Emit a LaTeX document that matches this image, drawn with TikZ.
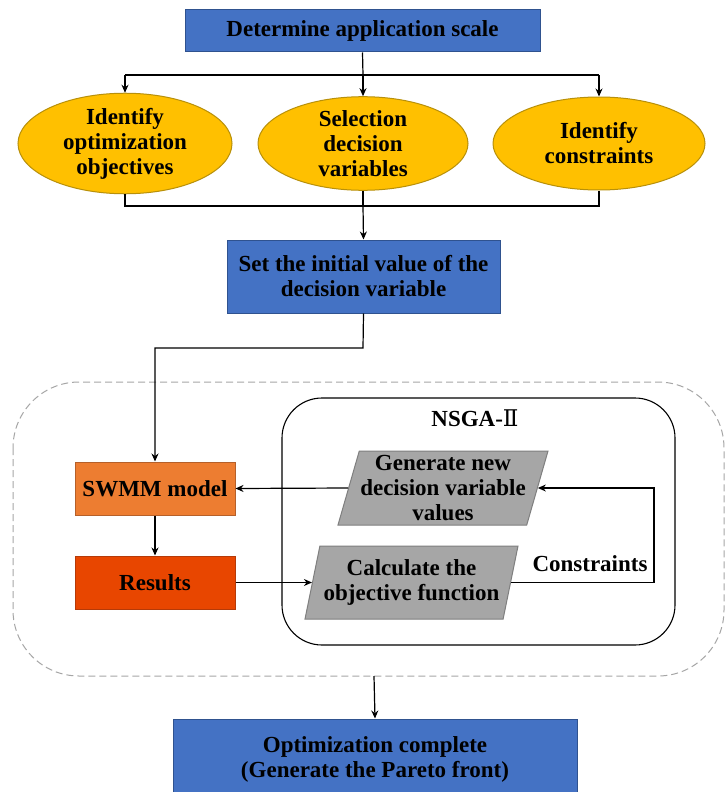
\documentclass[tikz,border=0pt]{standalone}
\usepackage{fontspec}
\setmainfont{Liberation Serif}
\newfontfamily\romanfont{DejaVu Serif}
\usetikzlibrary{shapes.geometric,arrows.meta}
\definecolor{boxblue}{HTML}{4472C4}
\definecolor{boxblueline}{HTML}{2F528F}
\definecolor{goalfill}{HTML}{FFC000}
\definecolor{goalline}{HTML}{B8900A}
\definecolor{swmmfill}{HTML}{ED7D31}
\definecolor{swmmline}{HTML}{B5602A}
\definecolor{resfill}{HTML}{E84600}
\definecolor{resline}{HTML}{B53A08}
\definecolor{parafill}{HTML}{A6A6A6}
\definecolor{paraline}{HTML}{7F7F7F}
\tikzset{
  lbl/.style={font=\bfseries\fontsize{23}{25}\selectfont, align=center, text=black},
  bluebox/.style={lbl, rectangle, draw=boxblueline, line width=1pt, fill=boxblue, inner sep=0pt},
  goal/.style={lbl, ellipse, draw=goalline, line width=1pt, fill=goalfill, inner sep=0pt},
  swmmbox/.style={lbl, rectangle, draw=swmmline, line width=1pt, fill=swmmfill, inner sep=0pt, minimum width=160, minimum height=53},
  resbox/.style={lbl, rectangle, draw=resline, line width=1pt, fill=resfill, inner sep=0pt, minimum width=160, minimum height=53},
  para/.style={lbl, trapezium, trapezium left angle=72, trapezium right angle=108, trapezium stretches body,
    draw=paraline, line width=1pt, fill=parafill, inner sep=0pt},
  link/.style={line width=1.2pt, draw=black},
  arr/.style={link, -{Stealth[length=8pt,width=7pt]}},
}
\begin{document}
\begin{tikzpicture}[x=1pt, y=-1pt]
\clip (0,0) rectangle (727,792);
\fill[white] (0,0) rectangle (727,792);

% outer dashed frame and NSGA-II frame
\draw[gray!70, line width=1pt, dash pattern=on 7pt off 4pt, rounded corners=66] (13,382) rectangle (724,676);
\draw[black, line width=1.1pt, rounded corners=40] (282,398) rectangle (675,645);
\node[lbl] (nsga) at (475,418) {NSGA-{\romanfont\mdseries Ⅱ}};

% top of the flow
\node[bluebox, minimum width=355, minimum height=42] (scale) at (362.5,31) {Determine application scale};
\node[goal, minimum width=214, minimum height=93] (obj) at (125,143.5) {Identify\\optimization\\objectives};
\node[goal, minimum width=210, minimum height=93] (var) at (363,143.5) {Selection\\decision\\variables};
\node[goal, minimum width=212, minimum height=93] (cons) at (599,143.5) {Identify\\constraints};
\node[bluebox, minimum width=273, minimum height=73] (init) at (363.5,276.5) {Set the initial value of the\\decision variable};

% simulation and optimisation loop
\node[swmmbox] (swmm) at (155,488.5) {SWMM model};
\node[resbox] (res) at (155,582.5) {Results};
\node[para, minimum width=210, minimum height=74] (gen) at (443,488) {Generate new\\decision variable\\values};
\node[para, minimum width=213, minimum height=73] (calc) at (411.5,582.5) {Calculate the\\objective function};
\node[lbl] (constr) at (590,564) {Constraints};

% final result
\node[bluebox, minimum width=404, minimum height=80] (final) at (375,759) {Optimization complete\\(Generate the Pareto front)};

% connectors
\coordinate (split) at (363,75);
\coordinate (join) at (363,206);
\coordinate (turn) at (363,348);
\coordinate (outbot) at (374,676);
\draw[link] (scale.south) -- (split);
\draw[link] (split -| obj.north) -- (split -| cons.north);
\draw[arr] (split -| obj.north) -- (obj.north);
\draw[arr] (split) -- (var.north);
\draw[arr] (split -| cons.north) -- (cons.north);
\draw[link] (obj.south) -- (join -| obj.south) -- (join -| cons.south) -- (cons.south);
\draw[link] (var.south) -- (join);
\draw[arr] (join) -- (init.north);
\draw[arr] (init.south) -- (turn) -| (swmm.north);
\draw[arr] (swmm.south) -- (res.north);
\draw[arr] (gen.left side) -- (swmm.east);
\draw[arr] (res.east) -- (calc.left side);
\draw[arr] (calc.right side) -- (654,582.5) |- (gen.right side);
\draw[arr] (outbot) -- (final.north);
\end{tikzpicture}
\end{document}
